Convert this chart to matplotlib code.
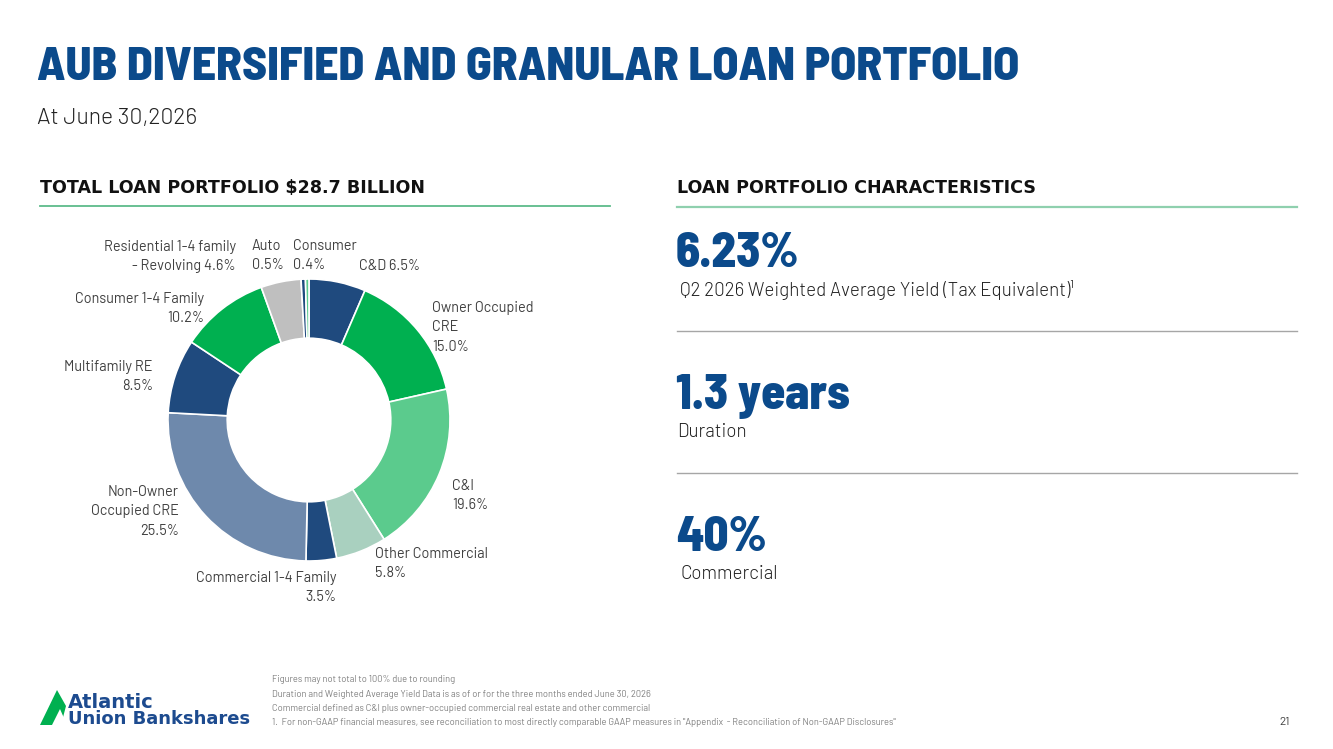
import matplotlib.pyplot as plt
from matplotlib.patches import Polygon

# loan mix, clockwise from 12 o'clock
segments = ["C&D", "Owner Occupied CRE", "C&I", "Other Commercial",
            "Commercial 1-4 Family", "Non-Owner Occupied CRE", "Multifamily RE",
            "Consumer 1-4 Family", "Residential 1-4 family - Revolving",
            "Auto", "Consumer"]
shares = [6.5, 15.0, 19.6, 5.8, 3.5, 25.5, 8.5, 10.2, 4.6, 0.5, 0.4]
seg_colors = ["#1F4A7E", "#00B050", "#5BCB8D", "#A9D0BF", "#1F4A7E", "#6E89AC",
              "#1F4A7E", "#00B050", "#BFBFBF", "#1F4A7E", "#5BCB8D"]
# label text shown next to each slice
label_text = ["C&D 6.5%", "Owner Occupied\nCRE\n15.0%", "C&I\n19.6%",
              "Other Commercial\n5.8%", "Commercial 1-4 Family\n3.5%",
              "Non-Owner\nOccupied CRE\n25.5%", "Multifamily RE\n8.5%",
              "Consumer 1-4 Family\n10.2%", "Residential 1-4 family\n- Revolving 4.6%",
              "Auto\n0.5%", "Consumer\n0.4%"]

stats = ["6.23%", "1.3 years", "40%"]
stat_desc = ["Q2 2026 Weighted Average Yield (Tax Equivalent)\u00b9", "Duration", "Commercial"]

footnotes = ["Figures may not total to 100% due to rounding",
             "Duration and Weighted Average Yield Data is as of or for the three months ended June 30, 2026",
             "Commercial defined as C&I plus owner-occupied commercial real estate and other commercial",
             "1.  For non-GAAP financial measures, see reconciliation to most directly comparable GAAP measures in \"Appendix  - Reconciliation of Non-GAAP Disclosures\""]

W, H = 1333, 749
BLUE = "#0B4A8B"
GREY_TXT = "#404040"
HEAVY = ["Barlow Semi Condensed", "DejaVu Sans"]
BODY = ["Barlow", "DejaVu Sans"]

fig = plt.figure(figsize=(W / 100, H / 100), dpi=100)


def px(x, y):
    return x / W, 1 - y / H


def text(x, y, s, **kw):
    fx, fy = px(x, y)
    fig.text(fx, fy, s, **kw)


def hline(x0, x1, y, color, lw):
    fig.add_artist(plt.Line2D([x0 / W, x1 / W], [1 - y / H, 1 - y / H],
                              color=color, lw=lw, transform=fig.transFigure))


# title block
text(37, 80, "AUB DIVERSIFIED AND GRANULAR LOAN PORTFOLIO", fontsize=34.2,
     family=HEAVY, weight=800, color=BLUE, va="baseline")
text(37, 124, "At June 30,2026", fontsize=16.5, family=BODY, weight=300,
     color="#222222", va="baseline")

# section headers
text(40, 188, "TOTAL LOAN PORTFOLIO $28.7 BILLION", fontsize=12.6, weight="bold",
     color="#111111", va="center")
text(677, 188, "LOAN PORTFOLIO CHARACTERISTICS", fontsize=12.6, weight="bold",
     color="#111111", va="center")
hline(40, 610, 206, "#5DBB8A", 1.3)
hline(677, 1297, 207, "#8FD0AE", 1.6)
hline(677, 1297, 331, "#A6A6A6", 1.0)
hline(677, 1297, 473, "#A6A6A6", 1.0)

# donut
cx, cy, r = 309, 420, 141
ax = fig.add_axes([(cx - r) / W, 1 - (cy + r) / H, 2 * r / W, 2 * r / H])
ax.pie(shares, colors=seg_colors, startangle=90, counterclock=False, radius=1,
       wedgeprops=dict(width=0.42, edgecolor="white", linewidth=1.2))
ax.set_xlim(-1, 1)
ax.set_ylim(-1, 1)
ax.set_aspect("equal")
ax.axis("off")

# label anchor points (pixels: x, first line centre y, alignment)
label_pos = [(359, 267, "left"), (432, 309, "left"), (452, 487, "left"),
             (375, 555, "left"), (336, 579, "right"), (179, 493, "right"),
             (153, 368, "right"), (204, 300, "right"), (236, 248, "right"),
             (252, 247, "left"), (293, 247, "left")]
for s, (x, y, ha) in zip(label_text, label_pos):
    text(x, y - 8, s, fontsize=10.4, family=BODY, color=GREY_TXT, ha=ha, va="top",
         linespacing=1.48, multialignment=ha)

# stats on the right
stat_base = [267, 409, 551]
desc_y = [290, 432, 574]
desc_x = [680, 677, 681]
for s, d, sb, dy, dx in zip(stats, stat_desc, stat_base, desc_y, desc_x):
    text(676, sb, s, fontsize=35, family=HEAVY, weight=800, color=BLUE, va="baseline")
    text(dx, dy, d, fontsize=13.5, family=BODY, weight=300, color="#1F1F1F", va="center")

# footnotes
for i, f in enumerate(footnotes):
    text(272, 680 + i * 14.3, f, fontsize=6.7, family=BODY, color="#7F7F7F", va="center")
text(1290, 722, "21", fontsize=8.5, family=BODY, color="#404040", va="center", ha="right")

# logo
mark = Polygon([px(40, 725), px(57, 690), px(66, 706), px(61, 725)], closed=True,
               transform=fig.transFigure, facecolor="#00B050", edgecolor="none")
fig.add_artist(mark)
mark2 = Polygon([px(52, 725), px(60, 709), px(67, 725)], closed=True,
                transform=fig.transFigure, facecolor="white", edgecolor="none")
fig.add_artist(mark2)
text(68, 702, "Atlantic", fontsize=14, weight="bold", color="#1D4B8F", va="center")
text(68, 719, "Union Bankshares", fontsize=13, weight="bold", color="#1D4B8F", va="center")

fig.savefig("out.png", dpi=100)
